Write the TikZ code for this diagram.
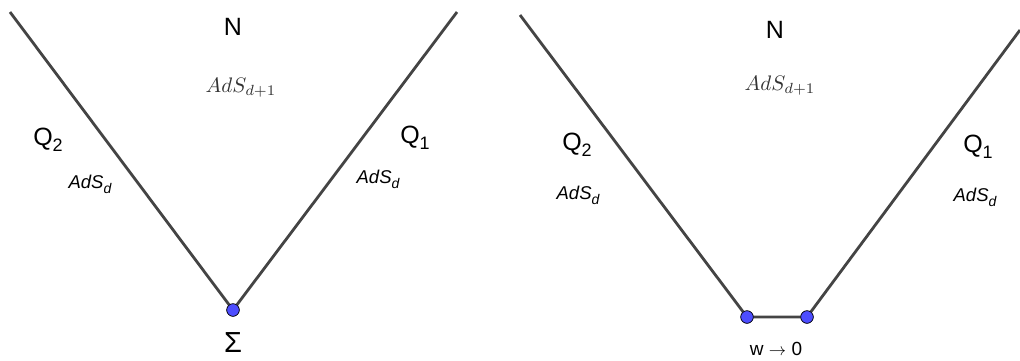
\documentclass[tikz,border=0pt]{standalone}
\usepackage{fontspec}
\setmainfont{Liberation Sans}
\definecolor{linegray}{HTML}{444444}
\definecolor{dotblue}{HTML}{4D4DFF}
\definecolor{mathgray}{HTML}{333333}
\tikzset{
  wall/.style={draw=linegray, line width=2.8pt},
  dot/.style={circle, fill=dotblue, draw=black, line width=0.6pt, inner sep=0pt, minimum size=12.5pt},
  big/.style={font=\fontsize{25}{28}\selectfont, inner sep=0pt},
  ads/.style={font=\fontsize{18.5}{20}\selectfont\itshape, inner sep=0pt},
  bulk/.style={text=mathgray, inner sep=0pt},
  lab/.style={font=\fontsize{19}{22}\selectfont, inner sep=0pt},
  sig/.style={font=\fontsize{29}{32}\selectfont, inner sep=0pt}
}
\newcommand{\adsd}{AdS\raisebox{-0.5ex}{\fontsize{14}{14}\selectfont\itshape d}}
\newcommand{\qsub}[1]{Q\raisebox{-0.45ex}{\fontsize{18}{18}\selectfont #1}}
\newcommand{\bulkads}{\scalebox{2.1}{$AdS_{d+1}$}}
\begin{document}
\begin{tikzpicture}[x=1pt,y=-1pt]
\useasboundingbox (0,0) rectangle (1020,360);
% left diagram
\coordinate (LA) at (10,12);
\coordinate (LB) at (457,12);
\node[dot] (S) at (233,310) {};
\draw[wall] (LA) -- (S.center) -- (LB);
\node[dot] at (S.center) {};
\node[big] (N1) at (233,27) {N};
\node[bulk] (B1) at (241,88) {\bulkads};
\node[big] (Q2a) at (48,140) {\qsub{2}};
\node[ads] (A2a) at (90,184) {\adsd};
\node[big] (Q1a) at (415,138) {\qsub{1}};
\node[ads] (A1a) at (378,179) {\adsd};
\node[sig] (Sig) at (233,343) {Σ};
% right diagram
\coordinate (RA) at (520,15);
\coordinate (RB) at (1020,30);
\node[dot] (P1) at (747,317) {};
\node[dot] (P2) at (807,317) {};
\draw[wall] (RA) -- (P1.center) -- (P2.center) -- (RB);
\node[dot] at (P1.center) {};
\node[dot] at (P2.center) {};
\node[big] (N2) at (775,30) {N};
\node[bulk] (B2) at (780,86) {\bulkads};
\node[big] (Q2b) at (577,145) {\qsub{2}};
\node[ads] (A2b) at (578,195) {\adsd};
\node[big] (Q1b) at (978,147) {\qsub{1}};
\node[ads] (A1b) at (975,197) {\adsd};
\node[lab] (W) at (776,349) {w $\rightarrow$ 0};
\end{tikzpicture}
\end{document}
